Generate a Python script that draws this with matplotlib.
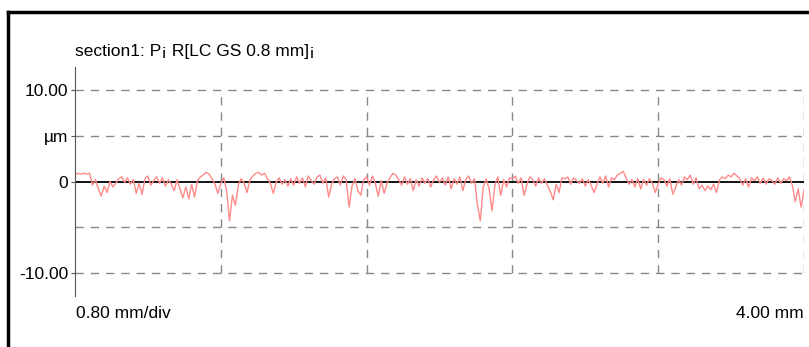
import matplotlib.pyplot as plt
import numpy as np
from matplotlib.lines import Line2D

# profil kekasaran (um), 50 titik per divisi 0.8 mm
div1 = [0.7, 0.9, 0.8, 0.9, 0.8, 0.9, -0.4, 0.2, -0.8, -1.6,
        -0.5, -1.2, 0.0, -0.6, -0.2, 0.3, 0.5, -0.1, 0.4, -0.3,
        0.2, -1.3, -0.2, -1.4, 0.3, 0.6, -0.4, 0.1, 0.5, -0.2,
        0.4, -0.5, 0.2, -0.3, -1.0, 0.2, -0.8, -1.8, -0.6, -1.9,
        -0.3, -1.7, 0.1, 0.5, 0.7, 1.0, 0.8, 0.3, -0.3, -1.3]
div2 = [-0.2, 0.4, -1.0, -4.3, -1.5, -2.6, -0.4, 0.3, -0.2, -1.2,
        0.2, 0.6, 0.9, 1.0, 0.7, 0.9, 0.3, -0.2, -1.3, -0.1,
        0.4, -0.3, 0.2, -0.5, 0.3, -0.4, 0.5, -0.2, 0.4, -0.6,
        0.6, 0.1, -0.3, 0.5, 0.7, -0.2, 0.4, -1.7, -0.3, 0.3,
        0.5, -0.4, 0.6, 0.2, -2.8, -0.5, 0.3, -1.0, -1.5, 0.2]
div3 = [0.5, -0.4, 0.6, -0.2, -1.6, 0.1, -1.3, -0.2, 0.4, 0.9,
        0.7, 0.2, -0.4, 0.5, -0.3, 0.3, -1.0, 0.2, -0.5, 0.4,
        -0.2, 0.3, -0.6, 0.2, 0.6, -0.1, 0.4, -0.4, 0.5, -0.8,
        0.3, -0.3, 0.5, -1.0, 0.2, 0.6, -0.2, 0.3, -2.5, -4.3,
        -0.6, 0.3, -0.8, -3.2, -0.4, 0.5, -1.5, 0.2, -0.6, 0.4]
div4 = [0.3, 0.6, -0.2, 0.4, -1.5, -0.3, 0.5, 0.2, -0.5, 0.4,
        -0.2, 0.3, -0.4, -1.1, -2.0, -0.3, -1.2, 0.4, 0.3, 0.5,
        -0.3, 0.4, 0.1, -0.2, 0.3, -0.5, 0.2, -0.4, -1.2, -0.3,
        0.5, -0.2, 0.6, -0.6, 0.4, 0.2, 0.7, 0.9, 1.1, 0.4,
        -0.3, 0.2, -0.6, 0.3, -0.8, 0.2, -0.4, 0.3, -0.2, -1.2]
div5 = [-0.3, 0.4, 0.2, -0.5, 0.3, -1.4, -0.6, 0.2, -0.4, 0.5,
        0.2, 0.7, -0.3, 0.4, -0.8, -0.4, -1.0, -0.5, -0.9, -0.3,
        -1.2, 0.2, 0.5, 0.3, 0.7, 0.5, 0.9, 0.6, 0.3, -0.4,
        0.3, -0.6, 0.4, 0.1, 0.5, -0.2, 0.4, -0.3, 0.3, 0.1,
        -0.3, 0.4, -0.2, 0.3, 0.1, 0.5, -0.4, -2.2, -0.8, -2.8,
        -1.0]

profil = np.array(div1 + div2 + div3 + div4 + div5)
panjang = 4.0  # mm
posisi = np.linspace(0, panjang, len(profil))

grid_x = [0.8, 1.6, 2.4, 3.2, 4.0]
grid_y = [10, 5, -5, -10]
ytick_pos = [10, 5, 0, -10]
ytick_lbl = ['10.00', 'µm', '0', '-10.00']

plt.rcParams['font.family'] = ['Liberation Sans', 'DejaVu Sans']
fs = 12.5

fig = plt.figure(figsize=(8.09, 3.47), dpi=100)
ax = fig.add_axes([75 / 809, 1 - 296 / 347, 729 / 809, 229 / 347])

for g in grid_y:
    ax.plot([0, panjang], [g, g], color='#888888', lw=1, dashes=(6, 5))
for g in grid_x:
    ax.plot([g, g], [-10, 10], color='#888888', lw=1, dashes=(6, 5))
ax.axhline(0, color='black', lw=1.3)
ax.plot(posisi, profil, color='#ff8a8a', lw=1)

ax.set_xlim(0, panjang)
ax.set_ylim(-12.5, 12.5)
ax.set_yticks(ytick_pos)
ax.set_yticklabels(ytick_lbl, fontsize=fs)
ax.set_xticks([])
ax.tick_params(axis='y', length=3, pad=2, color='#555555')
for s in ['top', 'right', 'bottom']:
    ax.spines[s].set_visible(False)
ax.spines['left'].set_color('#555555')

ax.text(0, 1.035, 'section1: P¡ R[LC GS 0.8 mm]¡', transform=ax.transAxes,
        fontsize=fs, ha='left', va='bottom')
ax.text(0.002, -0.045, '0.80 mm/div', transform=ax.transAxes,
        fontsize=fs, ha='left', va='top')
ax.text(1.0, -0.045, '4.00 mm', transform=ax.transAxes,
        fontsize=fs, ha='right', va='top')

# bingkai hitam
fig.add_artist(Line2D([8 / 809, 8 / 809], [0, 1 - 12 / 347], color='black', lw=2.5))
fig.add_artist(Line2D([8 / 809, 1], [1 - 12 / 347, 1 - 12 / 347], color='black', lw=2.5))

fig.savefig('out.png', dpi=100)
